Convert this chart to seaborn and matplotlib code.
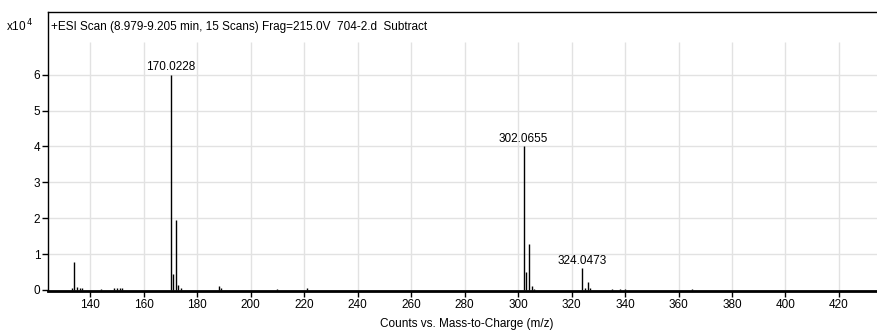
import matplotlib
matplotlib.use("Agg")
import matplotlib.pyplot as plt
import seaborn as sns

# -----------------------------
# Spectrum data (counts in units of 10^4)
# -----------------------------

mz = [133.0, 134.0, 135.0, 136.0, 137.0, 144.0, 149.0, 150.0, 151.0, 152.0,
      170.0228, 171.02, 172.02, 173.0, 174.0, 188.0, 189.0, 210.0, 221.0,
      302.0655, 303.07, 304.06, 305.06, 306.0,
      324.0473, 325.05, 326.04, 327.0, 335.0, 338.0, 340.0, 365.0, 435.0]
counts = [0.06, 0.78, 0.07, 0.05, 0.05, 0.03, 0.06, 0.05, 0.04, 0.06,
          6.0, 0.45, 1.95, 0.15, 0.05, 0.10, 0.04, 0.03, 0.05,
          4.0, 0.50, 1.28, 0.12, 0.03,
          0.60, 0.06, 0.22, 0.06, 0.03, 0.03, 0.03, 0.03, 0.03]

labeled_mz = [170.0228, 302.0655, 324.0473]
labeled_counts = [6.0, 4.0, 0.60]

x_ticks = [140, 160, 180, 200, 220, 240, 260, 280, 300, 320, 340, 360, 380, 400, 420]
y_ticks = [0, 1, 2, 3, 4, 5, 6]

title = "+ESI Scan (8.979-9.205 min, 15 Scans) Frag=215.0V  704-2.d  Subtract"
xlabel = "Counts vs. Mass-to-Charge (m/z)"

# -----------------------------
# Plot
# -----------------------------

sns.set_style("white", {"text.color": "black", "xtick.color": "black",
                        "ytick.color": "black", "axes.labelcolor": "black"})
plt.rcParams["font.family"] = ["Liberation Sans", "DejaVu Sans"]

fig = plt.figure(figsize=(8.77, 3.31), dpi=100)
ax = fig.add_axes([48 / 877, 40 / 331, 1 - 48 / 877 + 0.01, 279 / 331])

ax.set_xlim(124.2, 437.5)
ax.set_ylim(-0.03, 7.75)

# grid (vertical lines stop below the title line)
grid_top = 6.92
ax.vlines(x_ticks, -0.03, grid_top, color="#e2e2e2", lw=1, zorder=0)
ax.hlines(y_ticks[1:], 124.2, 437.5, color="#e2e2e2", lw=1, zorder=0)

ax.vlines(mz, 0, counts, color="black", lw=1, zorder=3)

for m, c in zip(labeled_mz, labeled_counts):
    ax.annotate(f"{m:.4f}", (m, c), xytext=(0, 1), textcoords="offset points",
                ha="center", va="bottom", fontsize=8.5, color="black")

ax.set_xticks(x_ticks)
ax.set_yticks(y_ticks)
ax.tick_params(axis="both", labelsize=8.5, length=4, width=1, direction="out",
               pad=1.5, color="black", labelcolor="black", bottom=True, left=True)

for side in ["top", "left"]:
    ax.spines[side].set_linewidth(1)
    ax.spines[side].set_color("black")
ax.spines["bottom"].set_linewidth(2)
ax.spines["bottom"].set_color("black")
ax.spines["right"].set_visible(False)

ax.set_xlabel(xlabel, fontsize=8.5, labelpad=5, color="black")
ax.text(0.004, 0.947, title, transform=ax.transAxes, fontsize=8.5,
        ha="left", va="center", color="black")
fig.text(6 / 877, 1 - 26 / 331, r"x10$^{\,4}$", fontsize=8.5, ha="left",
         va="center", color="black")

fig.savefig("out.png", dpi=100)
